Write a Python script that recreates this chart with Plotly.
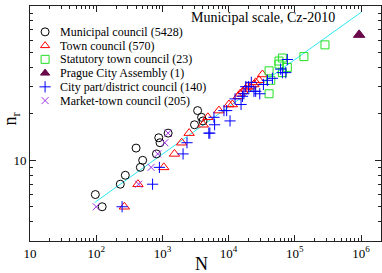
import plotly.graph_objects as go

# ---- data ----
muni_N = [97, 123, 231, 275, 400, 464, 503, 812, 880, 920, 1220, 3050, 3400, 3900, 4100]
muni_n = [6, 5, 7, 8, 12, 9, 10, 11, 14, 13, 15, 17, 21, 19, 18]

town_N = [266, 427, 1050, 1520, 1950, 2530, 4140, 4860, 7130, 10100, 11400, 13900,
          14900, 16500, 18100, 19100, 21500, 24100, 25600, 28800, 32400]
town_n = [5, 7, 9, 11, 13, 15, 17, 19, 21, 23, 23, 26, 27, 28, 29, 30, 30, 31, 32, 33, 36]

stat_N = [40800, 40800, 43300, 57600, 57600, 64800, 64800, 77000, 137000, 285000]
stat_n = [27, 38, 33, 44, 42, 46, 37, 40, 47, 56]

prague_N = [935000]
prague_n = [65]

city_N = [246, 710, 900, 2050, 2350, 5020, 5200, 6000, 6140, 8500, 9330, 10500, 12500,
          15400, 16200, 17000, 18100, 20000, 22000, 24100, 25600, 29500, 33500, 38500,
          45800, 61000, 64800, 73000, 77000]
city_n = [5, 7, 9, 11, 13, 15, 15, 19, 17, 21, 21, 18, 25, 23, 26, 27, 30, 30, 32, 28,
          28, 27, 31, 33, 34, 39, 37, 37, 45]

market_N = [100, 437, 675, 850, 1085, 1220]
market_n = [5, 7, 9, 11, 13, 15]

fit_N = [95, 1000000]
fit_n = [5.33, 91]

legend_names = ["Municipal council (5428)", "Town council (570)", "Statutory town council (23)",
                "Prague City Assembly (1)", "City part/district council (140)",
                "Market-town council (205)"]

x_tickvals = [10, 100, 1000, 10000, 100000, 1000000]
x_ticktext = ["10", "10<sup>2</sup>", "10<sup>3</sup>", "10<sup>4</sup>", "10<sup>5</sup>", "10<sup>6</sup>"]
y_tickvals = [10, 100]
y_ticktext = ["10", "100"]

FONT = "Liberation Serif"

x_minor = [m * 10 ** e for e in range(1, 7) for m in range(2, 10)]
y_minor = [m * 10 ** e for e in range(0, 2) for m in range(2, 10)]

fig = go.Figure()

fig.add_trace(go.Scatter(x=fit_N, y=fit_n, mode="lines", line=dict(color="#2ee8f2", width=1),
                         showlegend=False, hoverinfo="skip"))

styles = [
    (muni_N, muni_n, "circle-open", "black", 8),
    (town_N, town_n, "triangle-up-open", "#ff0000", 9),
    (stat_N, stat_n, "square-open", "#22e022", 8),
    (prague_N, prague_n, "triangle-up", "#6a0a4a", 10),
    (city_N, city_n, "cross-thin-open", "#0000ff", 8),
    (market_N, market_n, "x-thin-open", "#9a30e0", 7),
]
for (xs, ys, sym, col, sz), name in zip(styles, legend_names):
    fig.add_trace(go.Scatter(
        x=xs, y=ys, mode="markers", name=name, showlegend=False,
        marker=dict(symbol=sym, size=sz, color=col, line=dict(color=col, width=1)),
    ))

# ---- legend (keys drawn on an overlay axis spanning the plot area, text as annotations) ----
LEG_KEY_X = 0.043
LEG_TEXT_X = 0.080
LEG_TOP = 0.890
LEG_STEP = 0.0585
for i, ((xs, ys, sym, col, sz), name) in enumerate(zip(styles, legend_names)):
    yy = LEG_TOP - i * LEG_STEP
    fig.add_trace(go.Scatter(
        x=[LEG_KEY_X], y=[yy], xaxis="x2", yaxis="y2", mode="markers", showlegend=False,
        hoverinfo="skip",
        marker=dict(symbol=sym, size=min(sz, 8), color=col, line=dict(color=col, width=1)),
    ))
    fig.add_annotation(text=name, xref="paper", yref="paper", x=LEG_TEXT_X, y=yy,
                       xanchor="left", yanchor="middle", showarrow=False,
                       font=dict(family=FONT, size=12, color="black"))

axis_common = dict(
    type="log", showline=True, linecolor="#222", linewidth=1, mirror="allticks",
    ticks="inside", tickcolor="#222", showgrid=False, zeroline=False,
    tickfont=dict(family=FONT, size=13, color="black"),
)
fig.update_xaxes(**axis_common, range=[1, 6.301], tickmode="array", tickvals=x_tickvals,
                 ticktext=x_ticktext, ticklen=6,
                 minor=dict(tickmode="array", tickvals=x_minor, ticks="inside", ticklen=3,
                            tickcolor="#222", showgrid=False))
fig.update_yaxes(**axis_common, range=[0.4771, 2.0], tickmode="array", tickvals=y_tickvals,
                 ticktext=y_ticktext, ticklen=6,
                 minor=dict(tickmode="array", tickvals=y_minor, ticks="inside", ticklen=3,
                            tickcolor="#222", showgrid=False))

fig.update_layout(
    xaxis2=dict(overlaying="x", range=[0, 1], visible=False, fixedrange=True),
    yaxis2=dict(overlaying="y", range=[0, 1], visible=False, fixedrange=True),
)

fig.add_annotation(text="Municipal scale, Cz-2010", xref="paper", yref="paper", x=0.875, y=0.953,
                   xanchor="right", yanchor="middle", showarrow=False,
                   font=dict(family=FONT, size=14, color="black"))
fig.add_annotation(text="N", xref="paper", yref="paper", x=0.49, y=-0.098,
                   xanchor="center", yanchor="middle", showarrow=False,
                   font=dict(family=FONT, size=18, color="black"))
fig.add_annotation(text="n<sub>r</sub>", xref="paper", yref="paper", x=-0.052, y=0.52,
                   xanchor="center", yanchor="middle", showarrow=False, textangle=-90,
                   font=dict(family=FONT, size=18, color="black"))

fig.update_layout(
    width=382, height=273,
    margin=dict(l=30, r=1, t=6, b=32),
    plot_bgcolor="white", paper_bgcolor="white",
    showlegend=False,
    font=dict(family=FONT),
)

fig.write_html("out.html", config={"displayModeBar": False},
               post_script="document.body.style.margin='0';")
